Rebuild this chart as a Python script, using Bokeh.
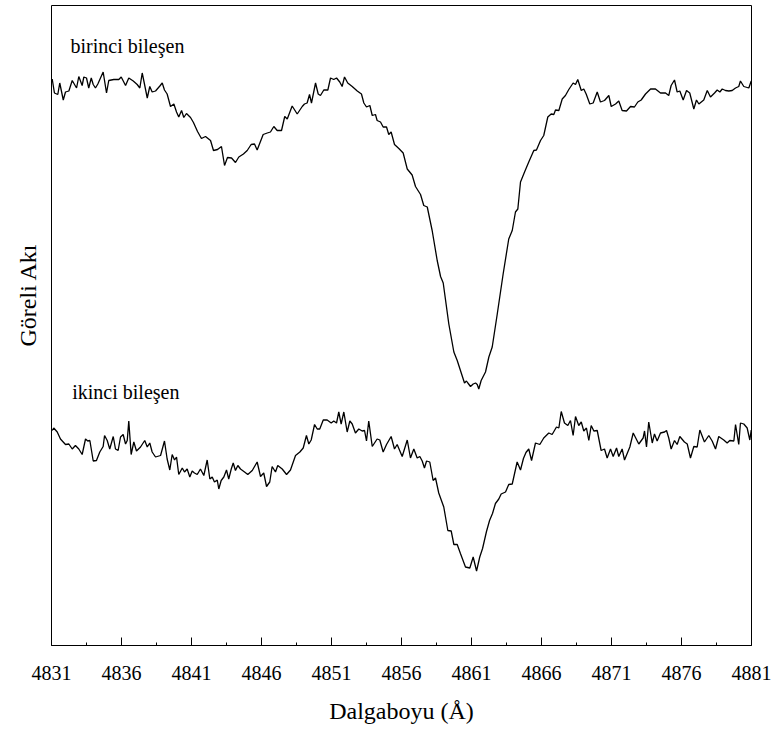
from bokeh.embed import file_html
from bokeh.models import FixedTicker, Label, Range1d, Title
from bokeh.plotting import figure
from bokeh.resources import INLINE

# Wavelength axis ticks (Angstrom)
TICKS = [4831, 4836, 4841, 4846, 4851, 4856, 4861, 4866, 4871, 4876, 4881]
MINOR = [4833.5, 4838.5, 4843.5, 4848.5, 4853.5, 4858.5, 4863.5, 4868.5, 4873.5, 4878.5]

# First component (birinci bileşen): wavelength and relative flux
wave_1 = [
    4831.05, 4831.21, 4831.45, 4831.59, 4831.84, 4832.00, 4832.24, 4832.48, 4832.79, 4832.95,
    4833.19, 4833.31, 4833.50, 4833.66, 4833.84, 4833.98, 4834.14, 4834.31, 4834.50, 4834.69,
    4834.93, 4835.09, 4835.45, 4835.81, 4835.98, 4836.29, 4836.52, 4836.84, 4837.12, 4837.31,
    4837.48, 4837.64, 4837.84, 4838.02, 4838.19, 4838.43, 4838.74, 4838.91, 4839.07, 4839.26,
    4839.50, 4839.74, 4839.93, 4840.09, 4840.29, 4840.45, 4840.64, 4840.93, 4841.14, 4841.43,
    4841.71, 4842.00, 4842.36, 4842.57, 4842.86, 4843.14, 4843.36, 4843.57, 4843.86, 4844.14,
    4844.38, 4844.71, 4844.98, 4845.26, 4845.50, 4845.69, 4846.12, 4846.41, 4846.64, 4846.88,
    4847.12, 4847.43, 4847.66, 4847.84, 4848.19, 4848.55, 4848.91, 4849.07, 4849.26, 4849.43,
    4849.57, 4849.86, 4850.05, 4850.21, 4850.45, 4850.74, 4850.93, 4851.16, 4851.36, 4851.59,
    4851.76, 4851.93, 4852.16, 4852.48, 4852.84, 4853.14, 4853.31, 4853.50, 4853.74, 4853.91,
    4854.14, 4854.26, 4854.50, 4854.69, 4854.93, 4855.09, 4855.26, 4855.50, 4855.81, 4856.12,
    4856.41, 4856.76, 4857.00, 4857.36, 4857.59, 4857.84, 4858.19, 4858.55, 4858.79, 4858.98,
    4859.38, 4859.74, 4859.98, 4860.50, 4860.64, 4860.74, 4860.93, 4861.12, 4861.29, 4861.41,
    4861.52, 4861.69, 4862.00, 4862.24, 4862.48, 4862.84, 4863.26, 4863.66, 4863.91, 4864.14,
    4864.31, 4864.50, 4864.79, 4865.09, 4865.45, 4865.64, 4865.93, 4866.16, 4866.45, 4866.69,
    4866.88, 4867.00, 4867.24, 4867.48, 4867.71, 4867.95, 4868.26, 4868.43, 4868.59, 4868.84,
    4869.02, 4869.19, 4869.45, 4869.69, 4869.98, 4870.21, 4870.50, 4870.81, 4870.98, 4871.29,
    4871.52, 4871.76, 4872.07, 4872.36, 4872.64, 4872.88, 4873.12, 4873.43, 4873.79, 4874.14,
    4874.50, 4874.86, 4875.09, 4875.26, 4875.50, 4875.69, 4875.88, 4876.12, 4876.36, 4876.59,
    4876.88, 4877.07, 4877.24, 4877.59, 4877.84, 4878.07, 4878.36, 4878.55, 4878.74, 4878.91,
    4879.14, 4879.38, 4879.62, 4879.86, 4880.09, 4880.21, 4880.45, 4880.81, 4880.98,
]
flux_1 = [
    1.013, 0.985, 0.982, 1.005, 0.971, 0.987, 0.989, 1.010, 0.995, 1.018,
    1.000, 1.017, 1.015, 0.995, 1.015, 1.002, 0.995, 1.003, 1.015, 1.027,
    0.985, 1.010, 1.012, 1.012, 1.017, 1.000, 1.015, 1.009, 1.002, 0.995,
    1.025, 1.003, 0.975, 0.998, 0.987, 0.989, 0.999, 1.005, 0.991, 0.983,
    0.958, 0.963, 0.947, 0.937, 0.950, 0.936, 0.944, 0.936, 0.926, 0.908,
    0.894, 0.898, 0.890, 0.870, 0.872, 0.878, 0.840, 0.856, 0.855, 0.846,
    0.857, 0.863, 0.870, 0.882, 0.883, 0.871, 0.902, 0.905, 0.907, 0.918,
    0.910, 0.910, 0.938, 0.933, 0.959, 0.943, 0.958, 0.963, 0.965, 0.982,
    0.965, 1.005, 0.983, 0.980, 0.991, 0.991, 1.015, 1.012, 1.015, 1.007,
    0.998, 1.017, 1.005, 0.998, 0.989, 0.983, 0.965, 0.957, 0.960, 0.940,
    0.942, 0.930, 0.927, 0.917, 0.917, 0.902, 0.907, 0.882, 0.874, 0.865,
    0.833, 0.821, 0.798, 0.782, 0.760, 0.757, 0.710, 0.650, 0.618, 0.605,
    0.523, 0.467, 0.450, 0.405, 0.409, 0.405, 0.398, 0.403, 0.405, 0.402,
    0.393, 0.410, 0.427, 0.457, 0.477, 0.543, 0.623, 0.693, 0.710, 0.747,
    0.753, 0.807, 0.827, 0.847, 0.870, 0.871, 0.890, 0.900, 0.937, 0.943,
    0.942, 0.951, 0.950, 0.973, 0.980, 0.992, 1.005, 1.002, 1.012, 0.990,
    0.993, 0.983, 0.963, 0.965, 0.987, 0.967, 0.970, 0.980, 0.958, 0.963,
    0.969, 0.950, 0.949, 0.958, 0.957, 0.967, 0.971, 0.983, 0.993, 0.993,
    0.985, 0.985, 0.980, 1.000, 1.011, 0.987, 0.989, 0.971, 0.990, 0.985,
    0.953, 0.971, 0.963, 0.971, 0.990, 0.977, 0.985, 0.991, 0.987, 0.993,
    0.990, 0.989, 0.990, 0.995, 0.998, 1.009, 0.998, 0.995, 1.009,
]

# Second component (ikinci bileşen): wavelength and relative flux
wave_2 = [
    4831.05, 4831.16, 4831.41, 4831.64, 4832.00, 4832.24, 4832.48, 4832.71, 4832.95, 4833.19,
    4833.43, 4833.59, 4833.74, 4833.98, 4834.21, 4834.45, 4834.69, 4834.79, 4834.98, 4835.16,
    4835.41, 4835.57, 4835.76, 4835.93, 4836.12, 4836.29, 4836.41, 4836.52, 4836.69, 4836.88,
    4837.07, 4837.36, 4837.66, 4837.84, 4838.02, 4838.19, 4838.43, 4838.79, 4839.07, 4839.26,
    4839.45, 4839.62, 4839.79, 4839.93, 4840.09, 4840.34, 4840.50, 4840.69, 4840.88, 4841.05,
    4841.21, 4841.41, 4841.64, 4841.88, 4842.12, 4842.31, 4842.48, 4842.64, 4842.84, 4842.95,
    4843.12, 4843.31, 4843.50, 4843.66, 4843.84, 4843.98, 4844.14, 4844.31, 4844.50, 4844.79,
    4845.02, 4845.34, 4845.69, 4845.93, 4846.16, 4846.36, 4846.59, 4846.76, 4847.00, 4847.16,
    4847.48, 4847.79, 4848.07, 4848.43, 4848.74, 4848.98, 4849.21, 4849.38, 4849.55, 4849.79,
    4849.98, 4850.16, 4850.41, 4850.69, 4850.98, 4851.16, 4851.36, 4851.52, 4851.69, 4851.88,
    4852.12, 4852.31, 4852.48, 4852.71, 4852.95, 4853.19, 4853.36, 4853.50, 4853.66, 4853.91,
    4854.26, 4854.45, 4854.69, 4854.93, 4855.26, 4855.50, 4855.69, 4856.05, 4856.41, 4856.64,
    4856.88, 4857.12, 4857.31, 4857.48, 4857.64, 4857.79, 4858.02, 4858.26, 4858.43, 4858.66,
    4859.02, 4859.31, 4859.55, 4859.74, 4859.98, 4860.21, 4860.57, 4860.88, 4861.12, 4861.36,
    4861.59, 4861.79, 4862.07, 4862.29, 4862.50, 4862.71, 4862.95, 4863.12, 4863.43, 4863.66,
    4863.91, 4864.26, 4864.50, 4864.71, 4864.89, 4865.09, 4865.29, 4865.57, 4865.88, 4866.16,
    4866.52, 4866.76, 4867.07, 4867.24, 4867.41, 4867.64, 4867.88, 4868.07, 4868.26, 4868.43,
    4868.66, 4868.84, 4869.02, 4869.21, 4869.38, 4869.55, 4869.74, 4869.98, 4870.26, 4870.50,
    4870.69, 4870.93, 4871.12, 4871.36, 4871.52, 4871.76, 4871.93, 4872.31, 4872.55, 4872.95,
    4873.26, 4873.36, 4873.50, 4873.66, 4873.91, 4874.07, 4874.26, 4874.50, 4874.79, 4874.93,
    4875.09, 4875.26, 4875.50, 4875.69, 4875.88, 4876.21, 4876.41, 4876.64, 4876.88, 4877.12,
    4877.31, 4877.64, 4877.95, 4878.19, 4878.43, 4878.66, 4879.02, 4879.26, 4879.45, 4879.74,
    4879.86, 4880.09, 4880.21, 4880.45, 4880.69, 4880.88, 4880.98,
]
flux_2 = [
    1.020, 1.025, 1.017, 1.003, 0.992, 0.993, 0.983, 0.990, 0.983, 0.972,
    1.003, 0.999, 1.000, 0.959, 0.960, 0.977, 0.988, 1.010, 1.000, 0.983,
    1.008, 0.983, 0.980, 1.007, 1.012, 0.993, 1.000, 1.039, 0.972, 0.997,
    0.979, 0.987, 1.000, 0.987, 0.995, 0.977, 0.967, 0.970, 0.999, 0.963,
    0.941, 0.972, 0.961, 0.967, 0.932, 0.945, 0.937, 0.943, 0.927, 0.939,
    0.935, 0.932, 0.943, 0.930, 0.961, 0.923, 0.927, 0.917, 0.921, 0.903,
    0.920, 0.927, 0.941, 0.923, 0.943, 0.955, 0.940, 0.950, 0.943, 0.937,
    0.932, 0.940, 0.957, 0.928, 0.935, 0.908, 0.917, 0.948, 0.937, 0.950,
    0.943, 0.932, 0.941, 0.970, 0.977, 0.985, 1.010, 0.993, 1.001, 1.032,
    1.023, 1.023, 1.041, 1.041, 1.035, 1.039, 1.035, 1.057, 1.033, 1.057,
    1.017, 1.039, 1.033, 1.015, 1.023, 1.019, 1.020, 0.999, 1.039, 0.988,
    1.003, 1.001, 0.977, 0.992, 1.008, 0.983, 0.992, 0.968, 1.001, 0.965,
    0.983, 0.965, 0.968, 0.959, 0.945, 0.959, 0.957, 0.920, 0.925, 0.895,
    0.867, 0.820, 0.819, 0.792, 0.792, 0.774, 0.747, 0.745, 0.767, 0.739,
    0.767, 0.784, 0.818, 0.840, 0.854, 0.874, 0.883, 0.893, 0.897, 0.912,
    0.913, 0.957, 0.941, 0.964, 0.976, 0.983, 0.960, 0.995, 0.992, 1.005,
    1.015, 1.012, 1.027, 1.025, 1.058, 1.035, 1.030, 1.040, 1.010, 1.048,
    1.030, 1.037, 1.019, 1.025, 1.000, 1.030, 1.019, 1.020, 0.980, 0.983,
    0.965, 0.983, 0.968, 0.985, 0.968, 0.983, 0.961, 0.987, 1.015, 0.993,
    1.005, 1.019, 0.987, 1.037, 0.995, 1.013, 0.999, 1.015, 1.017, 1.020,
    1.005, 0.983, 1.000, 0.992, 1.008, 0.997, 0.993, 0.965, 0.988, 0.987,
    1.021, 0.997, 1.010, 0.999, 0.983, 1.008, 1.001, 0.995, 1.000, 0.999,
    1.032, 0.992, 1.035, 1.033, 1.025, 1.001, 1.021,
]

# Vertical shift applied to the first component so the two spectra stack
OFFSET_1 = 0.71

FONT = "Liberation Serif, Times New Roman, DejaVu Serif, serif"

p = figure(
    width=773, height=729,
    output_backend="svg", toolbar_location=None,
    x_range=Range1d(4831, 4881), y_range=Range1d(0.59, 1.87),
    min_border_left=51, min_border_right=22, min_border_top=5, min_border_bottom=84,
)
p.background_fill_color = "white"
p.border_fill_color = "white"
p.outline_line_color = "black"
p.outline_line_width = 1
p.outline_line_alpha = 1.0
p.grid.visible = False
p.yaxis.visible = False

xa = p.xaxis[0]
xa.ticker = FixedTicker(ticks=TICKS, minor_ticks=MINOR)
xa.major_tick_in = 8
xa.major_tick_out = 0
xa.minor_tick_in = 3
xa.minor_tick_out = 0
xa.axis_line_color = "black"
xa.major_tick_line_color = "black"
xa.minor_tick_line_color = "black"
xa.major_label_text_font = FONT
xa.major_label_text_font_size = "20px"
xa.major_label_text_color = "black"
xa.major_label_standoff = 20
xa.axis_label = "Dalgaboyu (Å)"
xa.axis_label_text_font = FONT
xa.axis_label_text_font_size = "24px"
xa.axis_label_text_font_style = "normal"
xa.axis_label_text_color = "black"
xa.axis_label_standoff = 15

shifted_1 = [f + OFFSET_1 for f in flux_1]
p.line(wave_1, shifted_1, line_color="black", line_width=1.3)
p.line(wave_2, flux_2, line_color="black", line_width=1.3)

p.add_layout(Label(x=4832.36, y=1.790, text="birinci bileşen", text_font=FONT,
                   text_font_size="20px", text_color="black", text_baseline="alphabetic"))
p.add_layout(Label(x=4832.48, y=1.097, text="ikinci bileşen", text_font=FONT,
                   text_font_size="20px", text_color="black", text_baseline="alphabetic"))

# Vertical flux label on the left, placed above the frame centre
p.add_layout(Title(text="Göreli Akı", align="left", offset=299, standoff=22,
                   text_font=FONT, text_font_size="24px", text_font_style="normal",
                   text_color="black"), "left")

open("out.html", "w").write(file_html(p, INLINE))
